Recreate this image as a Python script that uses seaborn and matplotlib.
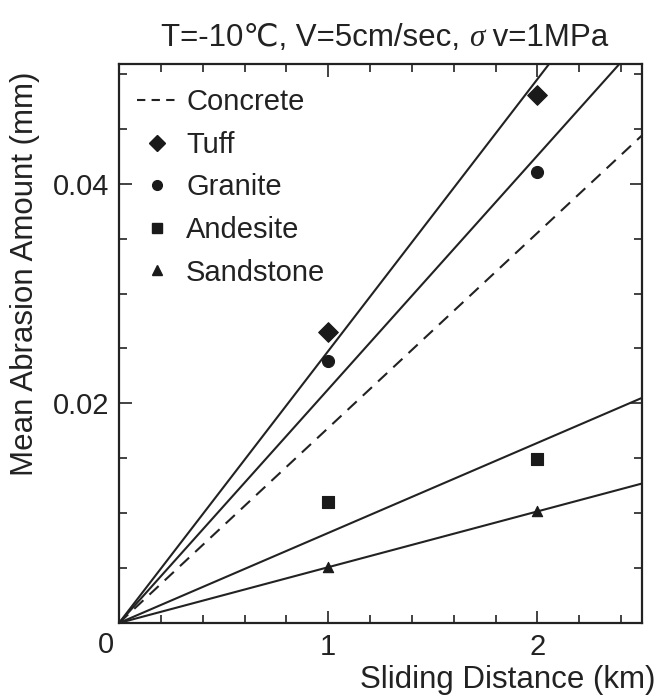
import matplotlib
matplotlib.use("Agg")
import matplotlib.pyplot as plt
from matplotlib.lines import Line2D
from matplotlib.ticker import MultipleLocator
import seaborn as sns
import pandas as pd

# ---- data ----
materials = ["Tuff", "Granite", "Andesite", "Sandstone"]
distance_km = [1, 2]
tuff = [0.0265, 0.0481]
granite = [0.0239, 0.0411]
andesite = [0.0110, 0.0149]
sandstone = [0.0051, 0.0102]

# fitted lines through origin: value at x = 0 and x = 2.5
fit_x = [0.0, 2.5]
fit_tuff = [0.0, 0.0619]
fit_granite = [0.0, 0.0532]
fit_concrete = [0.0, 0.0444]
fit_andesite = [0.0, 0.0205]
fit_sandstone = [0.0, 0.0127]

x_ticks = [1, 2]
x_ticklabels = ["1", "2"]
y_ticks = [0.02, 0.04]
y_ticklabels = ["0.02", "0.04"]

title_a = "T=-10\u2103, V=5cm/sec, "
title_b = "\u03c3"
title_c = " v=1MPa"
xlabel = "Sliding Distance (km)"
ylabel = "Mean Abrasion Amount (mm)"

# ---- figure ----
sns.set_theme(style="ticks")
plt.rcParams["font.family"] = ["Liberation Sans", "DejaVu Sans"]

W, H = 659, 698
fig = plt.figure(figsize=(W / 100, H / 100), dpi=100)
ax = fig.add_axes([119 / W, 1 - 623 / H, (642 - 119) / W, (623 - 64) / H])

ink = "#222222"
lw = 1.5
FS = 21

pts = pd.DataFrame({
    "x": distance_km * 4,
    "y": tuff + granite + andesite + sandstone,
    "m": [m for m in materials for _ in distance_km],
})
fits = pd.DataFrame({
    "x": fit_x * 5,
    "y": fit_tuff + fit_granite + fit_concrete + fit_andesite + fit_sandstone,
    "m": [m for m in ["Tuff", "Granite", "Concrete", "Andesite", "Sandstone"] for _ in fit_x],
})

for name in ["Tuff", "Granite", "Andesite", "Sandstone"]:
    sns.lineplot(data=fits[fits.m == name], x="x", y="y", ax=ax, color=ink,
                 linewidth=lw, legend=False)
sns.lineplot(data=fits[fits.m == "Concrete"], x="x", y="y", ax=ax, color=ink,
             linewidth=lw, linestyle=(0, (6, 4)), legend=False)

markers = {"Tuff": "D", "Granite": "o", "Andesite": "s", "Sandstone": "^"}
sizes = {"Tuff": 100, "Granite": 75, "Andesite": 70, "Sandstone": 55}
for name in materials:
    sns.scatterplot(data=pts[pts.m == name], x="x", y="y", ax=ax,
                    marker=markers[name], s=sizes[name], color="#1a1a1a",
                    edgecolor="#1a1a1a", linewidth=0.8, legend=False, zorder=5)

ax.set_xlim(0, 2.5)
ax.set_ylim(0, 0.0509)
ax.set_xticks(x_ticks)
ax.set_xticklabels(x_ticklabels)
ax.set_yticks(y_ticks)
ax.set_yticklabels(y_ticklabels)
ax.xaxis.set_minor_locator(MultipleLocator(0.2))
ax.yaxis.set_minor_locator(MultipleLocator(0.005))
ax.tick_params(which="both", direction="in", top=True, right=True,
               color=ink, width=1.2)
ax.tick_params(which="major", length=9, labelsize=FS, pad=7, colors=ink)
ax.tick_params(which="minor", length=6)
for s in ax.spines.values():
    s.set_color(ink)
    s.set_linewidth(1.6)
ax.set_xlabel("")
ax.set_ylabel("")

fig.text(106 / W, 1 - 645 / H, "0", ha="center", va="center", fontsize=FS, color=ink)

# title in three pieces so sigma can be italic; centred at x = 385 px
TFS = 22.5
r = fig.canvas.get_renderer()
t1 = fig.text(0, 1 - 38 / H, title_a, ha="left", va="center", fontsize=TFS, color=ink)
t2 = fig.text(0, 1 - 38 / H, title_b, ha="left", va="center", fontsize=TFS,
              color=ink, style="italic", family=["Liberation Serif", "DejaVu Serif"])
t3 = fig.text(0, 1 - 38 / H, title_c, ha="left", va="center", fontsize=TFS, color=ink)
w1 = t1.get_window_extent(r).width
w2 = t2.get_window_extent(r).width
w3 = t3.get_window_extent(r).width
x0 = 385 - (w1 + w2 + w3) / 2
t1.set_x(x0 / W)
t2.set_x((x0 + w1) / W)
t3.set_x((x0 + w1 + w2) / W)

fig.text(655 / W, 1 - 680 / H, xlabel, ha="right", va="center", fontsize=22.5, color=ink)
fig.text(25 / W, 1 - 274 / H, ylabel, ha="center", va="center", rotation=90,
         fontsize=22.5, color=ink)

handles = [Line2D([], [], color=ink, lw=lw, linestyle=(0, (4, 3)))]
for name in materials:
    handles.append(Line2D([], [], color="#1a1a1a", marker=markers[name], linestyle="none",
                          markersize={"D": 8, "o": 7, "s": 6.5, "^": 6.5}[markers[name]]))
ax.legend(handles, ["Concrete"] + materials, loc="upper left", frameon=False,
          fontsize=FS, handlelength=1.4, handletextpad=0.3, labelspacing=0.5,
          borderaxespad=0.2, bbox_to_anchor=(0.0, 0.988), labelcolor=ink)

fig.savefig("out.png", dpi=100, facecolor="white")
